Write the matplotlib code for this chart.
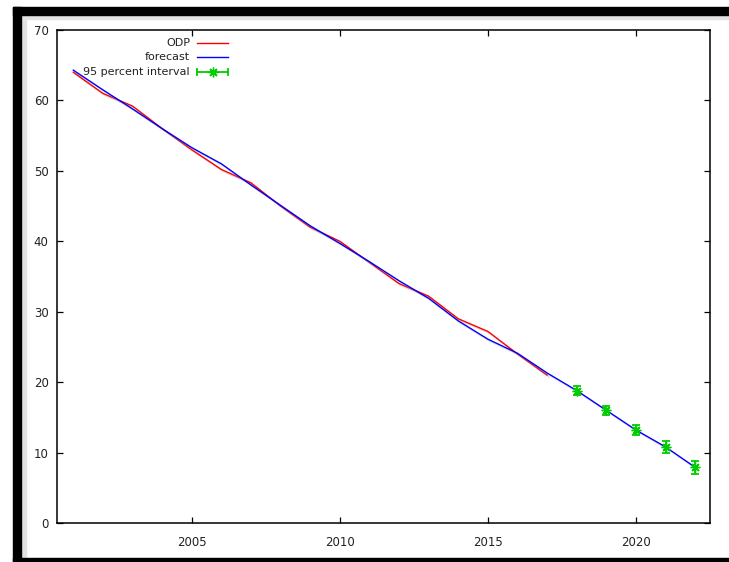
import matplotlib.pyplot as plt
from matplotlib.patches import Rectangle
from matplotlib.lines import Line2D
import matplotlib.patheffects as pe

# Данные
years_odp = list(range(2001, 2018))
odp = [64.0, 61.0, 59.2, 56.0, 53.0, 50.2, 48.3, 45.0, 42.0, 40.0,
       37.0, 34.0, 32.2, 29.0, 27.2, 24.0, 21.0]

years_fc = list(range(2001, 2023))
forecast = [64.3, 61.5, 58.8, 56.0, 53.3, 51.0, 48.0, 45.1, 42.2, 39.7,
            37.1, 34.4, 31.9, 28.7, 26.1, 24.1, 21.3, 18.8, 16.0, 13.2,
            10.8, 7.9]

years_ci = [2018, 2019, 2020, 2021, 2022]
ci_mid = [18.8, 16.0, 13.2, 10.8, 7.9]
ci_err = [0.65, 0.65, 0.7, 0.8, 0.9]

W, H = 729, 562
fig = plt.figure(figsize=(W / 100, H / 100), dpi=100)
fig.patch.set_facecolor('white')

# Рамка вокруг графика
def fig_rect(x0, y0, x1, y1, color):
    fig.patches.append(Rectangle((x0 / W, 1 - y1 / H), (x1 - x0) / W, (y1 - y0) / H,
                                 transform=fig.transFigure, color=color, zorder=0))

fig_rect(21, 15, 729, 19, '#e2e2e2')
fig_rect(21, 15, 26, 558, '#e2e2e2')
fig_rect(13, 7, 729, 15, 'black')
fig_rect(13, 7, 21, 562, 'black')
fig_rect(13, 558, 729, 562, 'black')

ax = fig.add_axes([57 / W, 1 - 523 / H, (710 - 57) / W, (523 - 30) / H])

shadow = [pe.SimpleLineShadow(offset=(1.5, -1.5), shadow_color='#999999', alpha=0.35), pe.Normal()]

ax.plot(years_odp, odp, color='#ff0000', lw=1.0, path_effects=shadow)
ax.plot(years_fc, forecast, color='#0000ff', lw=1.0, path_effects=shadow)
ax.errorbar(years_ci, ci_mid, yerr=ci_err, fmt='none', ecolor='#00cc00',
            elinewidth=1.3, capsize=3, capthick=1.3)
ax.plot(years_ci, ci_mid, linestyle='none', marker=(8, 2, 0), markersize=7,
        markeredgecolor='#00cc00', markeredgewidth=1.0, color='#00cc00')

ax.set_xlim(2000.45, 2022.5)
ax.set_ylim(0, 70)
ax.set_xticks([2005, 2010, 2015, 2020])
ax.set_yticks(range(0, 71, 10))
ax.tick_params(direction='in', top=True, right=True, length=4, width=0.9,
               labelsize=8.5, labelcolor='#222222', pad=6)
ax.tick_params(axis='x', pad=9)
for s in ax.spines.values():
    s.set_linewidth(1.1)

# Легенда в стиле gnuplot
def fx(px):
    return px / W

def fy(py):
    return 1 - py / H

rows = [('ODP', 43), ('forecast', 57), ('95 percent interval', 72)]
for label, y in rows:
    fig.text(fx(190), fy(y), label, ha='right', va='center', fontsize=8, color='#222222')

fig.lines.append(Line2D([fx(197), fx(228)], [fy(43), fy(43)], color='#ff0000', lw=1.0,
                        transform=fig.transFigure))
fig.lines.append(Line2D([fx(197), fx(228)], [fy(57), fy(57)], color='#0000ff', lw=1.0,
                        transform=fig.transFigure))
fig.lines.append(Line2D([fx(197), fx(228)], [fy(72), fy(72)], color='#00cc00', lw=1.3,
                        transform=fig.transFigure))
for xc in (197, 228):
    fig.lines.append(Line2D([fx(xc), fx(xc)], [fy(69), fy(75)], color='#00cc00', lw=1.3,
                            transform=fig.transFigure))
fig.lines.append(Line2D([fx(212.5)], [fy(72)], linestyle='none', marker=(8, 2, 0),
                        markersize=7, markeredgecolor='#00cc00', markeredgewidth=1.0,
                        transform=fig.transFigure))

fig.savefig('out.png', dpi=100)
